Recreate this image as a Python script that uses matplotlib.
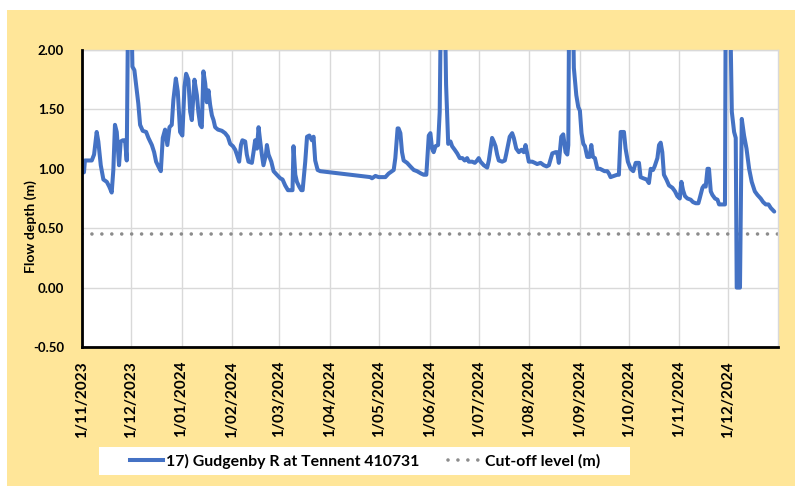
import matplotlib
matplotlib.use("Agg")
import matplotlib.pyplot as plt
from matplotlib.patches import Rectangle
from matplotlib.lines import Line2D
import pandas as pd

# ---------------- data ----------------
start_date = "2023-11-01"
# days since 1/11/2023
day_offsets = [
    0, 1.2, 1.8, 6.0, 7.4, 9.0, 10.0, 11.5, 13.1, 15.2,
    16.7, 18.2, 19.2, 20.2, 21.3, 22.7, 23.7, 25.0, 26.4, 27.4,
    28.4, 29.9, 30.9, 32.1, 33.6, 34.5, 35.6, 37.2, 39.3, 40.7,
    42.8, 44.2, 45.4, 46.8, 48.3, 49.5, 50.9, 52.3, 53.6, 55.0,
    56.0, 57.5, 58.7, 60.1, 61.5, 62.8, 63.8, 65.2, 66.3, 67.3,
    68.9, 70.4, 71.3, 72.4, 73.4, 74.4, 75.5, 76.5, 77.5, 78.5,
    79.6, 80.6, 81.6, 83.3, 85.7, 87.7, 89.4, 90.8, 92.5, 93.9,
    94.9, 96.3, 97.4, 98.3, 100.0, 101.0, 102.0, 104.1, 105.1, 106.1,
    107.2, 108.2, 109.2, 110.2, 111.2, 112.7, 113.3, 114.3, 116.0, 117.4,
    119.4, 121.5, 122.9, 124.5, 126.2, 129.0, 129.6, 130.7, 131.7, 133.1,
    134.4, 135.2, 136.8, 137.9, 139.3, 140.9, 141.9, 142.9, 144.4, 146.0,
    176.7, 177.7, 179.8, 181.8, 183.9, 185.9, 187.9, 190.0, 191.0, 192.0,
    193.4, 194.0, 195.1, 196.1, 197.1, 199.2, 201.2, 203.3, 205.3, 207.8,
    209.4, 211.0, 212.5, 213.5, 214.5, 215.5, 216.6, 218.2, 219.2, 220.1,
    222.1, 223.1, 224.4, 225.8, 226.8, 228.4, 229.9, 231.5, 233.1, 234.5,
    236.0, 237.0, 239.1, 240.7, 242.1, 243.1, 244.2, 246.2, 248.3, 249.3,
    251.3, 252.3, 253.4, 254.4, 255.4, 257.5, 259.1, 259.9, 262.1, 263.6,
    264.6, 266.1, 267.7, 269.3, 270.7, 271.8, 272.8, 273.8, 275.9, 277.5,
    278.9, 281.0, 283.0, 284.7, 286.1, 288.2, 290.2, 291.2, 292.2, 293.7,
    294.9, 296.3, 297.4, 298.0, 298.6, 300.6, 301.4, 302.9, 304.1, 305.1,
    306.1, 307.2, 308.2, 309.6, 311.0, 312.1, 313.1, 314.3, 315.8, 317.4,
    318.8, 320.2, 321.9, 322.9, 323.9, 325.9, 328.0, 329.0, 330.1, 332.1,
    333.1, 334.5, 336.2, 337.8, 339.3, 341.3, 342.3, 344.0, 346.0, 347.4,
    348.5, 349.9, 350.9, 352.6, 353.6, 354.6, 355.6, 356.6, 358.1, 359.7,
    361.8, 363.4, 364.8, 366.3, 367.3, 368.3, 369.5, 371.0, 373.0, 374.4,
    376.1, 377.7, 378.5, 380.2, 381.2, 382.2, 383.3, 384.2, 385.3, 386.3,
    387.9, 389.4, 390.4, 394.0, 394.5, 396.9, 398.2, 399.6, 400.6, 401.2,
    403.2, 404.3, 405.7, 407.2, 408.8, 410.4, 412.3, 413.9, 415.9, 417.4,
    419.0, 420.7, 422.1, 424.2,
]
flow_depth_m = [
    1.01, 0.97, 1.07, 1.07, 1.12, 1.31, 1.23, 1.03, 0.91, 0.89,
    0.85, 0.80, 0.99, 1.37, 1.31, 1.03, 1.23, 1.24, 1.24, 1.07,
    2.6, 2.6, 1.86, 1.83, 1.65, 1.55, 1.37, 1.32, 1.31, 1.26,
    1.20, 1.14, 1.06, 1.02, 0.98, 1.26, 1.33, 1.20, 1.35, 1.37,
    1.58, 1.76, 1.65, 1.31, 1.28, 1.69, 1.80, 1.75, 1.48, 1.41,
    1.75, 1.62, 1.48, 1.37, 1.35, 1.82, 1.72, 1.56, 1.66, 1.54,
    1.45, 1.41, 1.35, 1.33, 1.32, 1.30, 1.27, 1.21, 1.19, 1.16,
    1.12, 1.06, 1.20, 1.24, 1.23, 1.12, 1.06, 1.05, 1.14, 1.24,
    1.17, 1.35, 1.23, 1.12, 1.03, 1.12, 1.20, 1.12, 1.06, 0.98,
    0.95, 0.92, 0.91, 0.86, 0.82, 0.82, 1.19, 0.95, 0.89, 0.85,
    0.82, 0.82, 1.06, 1.27, 1.28, 1.24, 1.27, 1.07, 0.99, 0.98,
    0.93, 0.92, 0.94, 0.93, 0.93, 0.93, 0.96, 0.98, 0.99, 1.09,
    1.34, 1.34, 1.30, 1.14, 1.07, 1.05, 1.02, 0.99, 0.98, 0.96,
    0.95, 0.95, 1.28, 1.30, 1.17, 1.14, 1.19, 1.20, 1.48, 2.6,
    2.6, 1.71, 1.21, 1.23, 1.19, 1.16, 1.13, 1.09, 1.09, 1.07,
    1.09, 1.06, 1.06, 1.05, 1.07, 1.09, 1.06, 1.03, 1.01, 1.07,
    1.26, 1.23, 1.19, 1.12, 1.07, 1.06, 1.07, 1.12, 1.27, 1.30,
    1.26, 1.17, 1.14, 1.16, 1.14, 1.20, 1.13, 1.06, 1.06, 1.05,
    1.04, 1.05, 1.03, 1.02, 1.03, 1.13, 1.14, 1.14, 1.05, 1.27,
    1.29, 1.14, 1.12, 1.20, 2.6, 2.6, 1.85, 1.62, 1.52, 1.49,
    1.30, 1.21, 1.19, 1.10, 1.10, 1.20, 1.10, 1.09, 1.00, 1.00,
    0.99, 0.98, 0.98, 0.96, 0.93, 0.94, 0.95, 0.95, 1.31, 1.31,
    1.17, 1.06, 1.00, 0.98, 1.05, 1.05, 0.93, 0.92, 0.91, 0.88,
    1.00, 0.99, 1.02, 1.09, 1.20, 1.22, 1.14, 0.95, 0.91, 0.86,
    0.84, 0.81, 0.77, 0.75, 0.89, 0.82, 0.77, 0.75, 0.74, 0.72,
    0.71, 0.71, 0.75, 0.84, 0.86, 0.85, 1.00, 1.00, 0.81, 0.78,
    0.75, 0.74, 0.70, 0.70, 2.6, 2.6, 1.48, 1.31, 1.26, 0.00,
    0.00, 1.42, 1.28, 1.17, 1.00, 0.89, 0.81, 0.78, 0.75, 0.72,
    0.70, 0.70, 0.67, 0.64,
]
cutoff_level = 0.45
series_name = "17) Gudgenby R at Tennent 410731"
cutoff_name = "Cut-off level (m)"
tick_dates = ["2023-11-01", "2023-12-01", "2024-01-01", "2024-02-01", "2024-03-01",
              "2024-04-01", "2024-05-01", "2024-06-01", "2024-07-01", "2024-08-01",
              "2024-09-01", "2024-10-01", "2024-11-01", "2024-12-01"]
tick_labels = ["1/11/2023", "1/12/2023", "1/01/2024", "1/02/2024", "1/03/2024",
               "1/04/2024", "1/05/2024", "1/06/2024", "1/07/2024", "1/08/2024",
               "1/09/2024", "1/10/2024", "1/11/2024", "1/12/2024"]
y_ticks = [-0.5, 0.0, 0.5, 1.0, 1.5, 2.0]
y_label = "Flow depth (m)"

# ---------------- figure ----------------
FONT = "Lato"
W, H = 795, 486
fig = plt.figure(figsize=(W / 100, H / 100), dpi=100, facecolor="white")
fig.patches.append(Rectangle((7 / W, 0), 1, (H - 10) / H, transform=fig.transFigure,
                             facecolor="#FFE699", edgecolor="none", zorder=-10))

ax = fig.add_axes([82 / W, 1 - 347 / H, (778 - 82) / W, (347 - 50) / H])
ax.set_facecolor("white")

dates = pd.Timestamp(start_date) + pd.to_timedelta(day_offsets, unit="D")
ax.plot(dates, flow_depth_m, color="#4472C4", lw=2.9, solid_joinstyle="round",
        solid_capstyle="round", zorder=3)
ax.axhline(cutoff_level, color="#8C8C8C", lw=2.6, linestyle=(0, (0.001, 2.75)),
           dash_capstyle="round", zorder=2)

ax.set_xlim(pd.Timestamp("2023-11-01"), pd.Timestamp("2024-12-31 12:00"))
ax.set_ylim(-0.5, 2.0)
ax.set_yticks(y_ticks)
ax.set_yticklabels([f"{v:.2f}" for v in y_ticks], fontfamily=FONT, fontweight="bold",
                   fontsize=9.5)
ax.set_xticks([pd.Timestamp(d) for d in tick_dates])
ax.set_xticklabels(tick_labels, rotation=90, fontfamily=FONT, fontweight="bold",
                   fontsize=11, va="top", ha="center")
ax.tick_params(axis="both", length=0)
ax.tick_params(axis="x", pad=10)
ax.tick_params(axis="y", pad=13)
ax.grid(True, color="#D9D9D9", lw=1.0, zorder=0)
ax.set_axisbelow(True)
for s in ["top", "right"]:
    ax.spines[s].set_color("#D9D9D9")
    ax.spines[s].set_linewidth(1.0)
for s in ["left", "bottom"]:
    ax.spines[s].set_color("black")
    ax.spines[s].set_linewidth(2.0)
    ax.spines[s].set_zorder(4)

fig.text(31 / W, 1 - 227 / H, y_label, rotation=90, ha="center", va="center",
         fontfamily=FONT, fontweight="bold", fontsize=10)

# legend
fig.patches.append(Rectangle((99 / W, 1 - 475 / H), (630 - 99) / W, 28 / H,
                             transform=fig.transFigure, facecolor="white",
                             edgecolor="none", zorder=-5))
handles = [Line2D([], [], color="#4472C4", lw=2.9),
           Line2D([], [], color="#8C8C8C", lw=2.6, linestyle=(0, (0.001, 2.75)),
                  dash_capstyle="round")]
leg = fig.legend(handles, [series_name, cutoff_name], ncol=2, loc="center left",
                 bbox_to_anchor=(122 / W, 1 - 461 / H), frameon=False, borderpad=0,
                 handlelength=2.1, handletextpad=0.2, columnspacing=1.8,
                 prop={"family": FONT, "weight": "bold", "size": 11.4})

fig.savefig("out.png", dpi=100, facecolor="white")
